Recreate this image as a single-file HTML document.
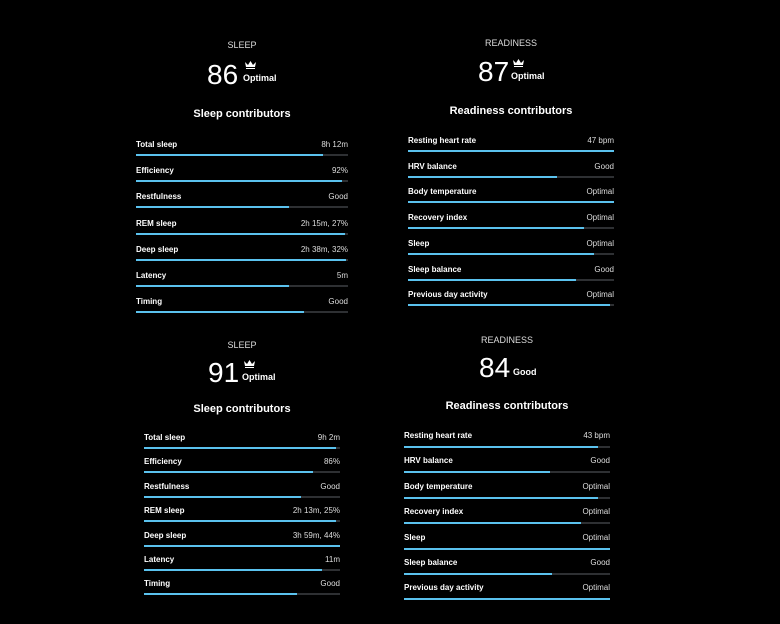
<!DOCTYPE html>
<html><head><meta charset="utf-8"><style>
body{margin:0;width:780px;height:624px;background:#000;overflow:hidden;position:relative;font-family:"Liberation Sans",sans-serif;color:#fff}
.a{position:absolute;white-space:nowrap}
.cap{font-size:9px;color:#ddd;transform:translateX(-50%)}
.big{font-size:28px;line-height:28px;font-weight:normal}
.st{font-size:9px;font-weight:bold}
.ttl{font-size:11px;font-weight:bold;transform:translateX(-50%)}
.lbl{font-size:8px;font-weight:bold}
.val{font-size:8px;color:#ddd;text-align:right}
.bg{position:absolute;height:2px;background:#2e3033}
.fg{position:absolute;height:2px;background:#5bc2ee;left:0;top:0}
</style></head><body>
<div id="root"></div>
<script>
var P=[
{cap:"SLEEP",cx:242,capy:40,num:"86",numx:207,numy:61,st:"Optimal",stx:243,sty:73,crown:true,ttl:"Sleep contributors",tty:108,x0:136,x1:348,ly:140,by:154,sp:26.2,
rows:[["Total sleep","8h 12m",323],["Efficiency","92%",342],["Restfulness","Good",289],["REM sleep","2h 15m, 27%",345],["Deep sleep","2h 38m, 32%",346],["Latency","5m",289],["Timing","Good",304]]},
{cap:"READINESS",cx:511,capy:38,num:"87",numx:478,numy:58,st:"Optimal",stx:511,sty:71,crown:true,ttl:"Readiness contributors",tty:105,x0:408,x1:614,ly:136,by:150,sp:25.7,
rows:[["Resting heart rate","47 bpm",614],["HRV balance","Good",557],["Body temperature","Optimal",614],["Recovery index","Optimal",584],["Sleep","Optimal",594],["Sleep balance","Good",576],["Previous day activity","Optimal",610]]},
{cap:"SLEEP",cx:242,capy:340,num:"91",numx:208,numy:359,st:"Optimal",stx:242,sty:372,crown:true,ttl:"Sleep contributors",tty:403,x0:144,x1:340,ly:433,by:447,sp:24.4,
rows:[["Total sleep","9h 2m",336],["Efficiency","86%",313],["Restfulness","Good",301],["REM sleep","2h 13m, 25%",336],["Deep sleep","3h 59m, 44%",340],["Latency","11m",322],["Timing","Good",297]]},
{cap:"READINESS",cx:507,capy:335,num:"84",numx:479,numy:354,st:"Good",stx:513,sty:367,crown:false,ttl:"Readiness contributors",tty:400,x0:404,x1:610,ly:431,by:446,sp:25.4,
rows:[["Resting heart rate","43 bpm",598],["HRV balance","Good",550],["Body temperature","Optimal",598],["Recovery index","Optimal",581],["Sleep","Optimal",610],["Sleep balance","Good",552],["Previous day activity","Optimal",610]]}
];
var h="";
P.forEach(function(p){
h+='<div class="a cap" style="left:'+p.cx+'px;top:'+p.capy+'px">'+p.cap+'</div>';
h+='<div class="a big" style="left:'+p.numx+'px;top:'+p.numy+'px">'+p.num+'</div>';
if(p.crown)h+='<svg class="a" style="left:'+(p.stx+2)+'px;top:'+(p.sty-12)+'px" width="11" height="8" viewBox="0 0 11 8"><path d="M0 1 L3 4 L5.5 0 L8 4 L11 1 L10 6 L1 6Z M1 7h9v1h-9z" fill="#fff"/></svg>';
h+='<div class="a st" style="left:'+p.stx+'px;top:'+p.sty+'px">'+p.st+'</div>';
h+='<div class="a ttl" style="left:'+p.cx+'px;top:'+p.tty+'px">'+p.ttl+'</div>';
p.rows.forEach(function(r,i){
var ly=p.ly+i*p.sp,by=p.by+i*p.sp,w=p.x1-p.x0;
h+='<div class="a lbl" style="left:'+p.x0+'px;top:'+ly.toFixed(1)+'px">'+r[0]+'</div>';
h+='<div class="a val" style="right:'+(780-p.x1)+'px;top:'+ly.toFixed(1)+'px">'+r[1]+'</div>';
h+='<div class="bg" style="left:'+p.x0+'px;top:'+by.toFixed(1)+'px;width:'+w+'px"><div class="fg" style="width:'+(r[2]-p.x0)+'px"></div></div>';
});
});
document.getElementById("root").innerHTML=h;
</script>
</body></html>
